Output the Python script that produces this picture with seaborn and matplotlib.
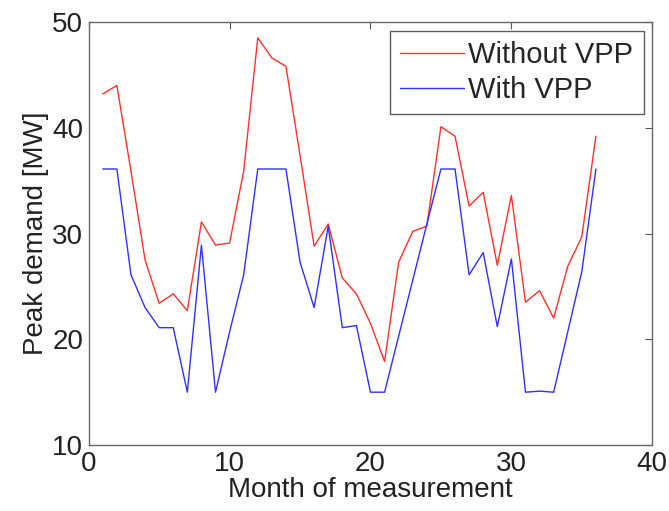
import numpy as np
import pandas as pd
import matplotlib
matplotlib.use("Agg")
import matplotlib.pyplot as plt
import seaborn as sns

months = list(range(1, 37))
without_vpp = [43.2, 44.0, 35.9, 27.5, 23.4, 24.3, 22.7, 31.1, 28.9, 29.1,
               35.9, 48.5, 46.6, 45.8, 37.4, 28.8, 30.9, 25.8, 24.3, 21.5,
               17.9, 27.3, 30.2, 30.7, 40.1, 39.2, 32.6, 33.9, 27.0, 33.6,
               23.5, 24.6, 22.0, 26.9, 29.7, 39.2]
with_vpp = [36.1, 36.1, 26.1, 23.0, 21.1, 21.1, 15.0, 28.9, 15.0, 20.7,
            26.1, 36.1, 36.1, 36.1, 27.3, 23.0, 30.7, 21.1, 21.3, 15.0,
            15.0, 20.3, 25.6, 30.9, 36.1, 36.1, 26.1, 28.2, 21.2, 27.6,
            15.0, 15.1, 15.0, 20.7, 26.4, 36.1]

df = pd.DataFrame({
    "month": months * 2,
    "peak": without_vpp + with_vpp,
    "series": ["Without VPP"] * 36 + ["With VPP"] * 36,
})

sns.set_style("white")
plt.rcParams["font.family"] = ["Liberation Sans", "DejaVu Sans"]

fig = plt.figure(figsize=(6.69, 5.11), dpi=100)
ax = fig.add_axes([0.1326, 0.129, 0.8424, 0.828])

sns.lineplot(data=df, x="month", y="peak", hue="series",
             palette={"Without VPP": "#ff3030", "With VPP": "#3030ff"},
             linewidth=1.0, ax=ax)

ax.set_xlim(0, 40)
ax.set_ylim(10, 50)
ax.set_xticks([0, 10, 20, 30, 40])
ax.set_yticks([10, 20, 30, 40, 50])
ax.tick_params(direction="in", length=5, labelsize=20, top=True, right=True,
               color="#555555", labelcolor="#222222", pad=4)
for s in ax.spines.values():
    s.set_color("#666666")
    s.set_linewidth(1.0)
ax.set_xlabel("Month of measurement", fontsize=20, color="#222222", labelpad=0)
ax.set_ylabel("Peak demand [MW]", fontsize=20, color="#222222", labelpad=2)

leg = ax.legend(loc="upper right", fontsize=21, frameon=True, fancybox=False,
                handlelength=2.2, handletextpad=0.15, borderpad=0.35,
                labelspacing=0.25, borderaxespad=0.3)
leg.get_frame().set_edgecolor("#333333")
leg.get_frame().set_linewidth(1.0)

fig.savefig("out.png", dpi=100)
